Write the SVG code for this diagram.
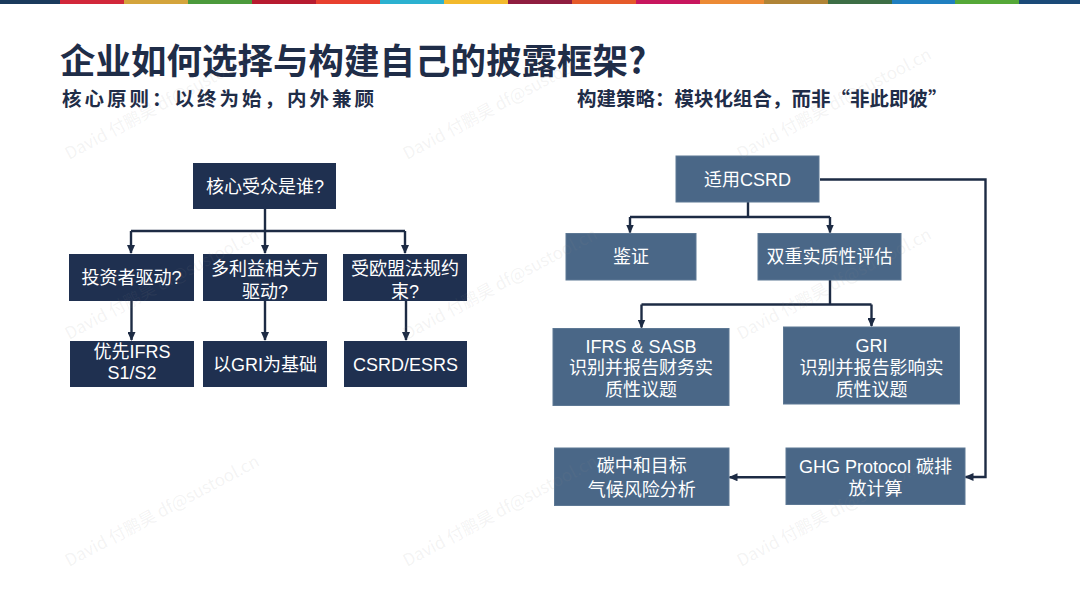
<svg xmlns="http://www.w3.org/2000/svg" width="1080" height="608" viewBox="0 0 1080 608">
<defs>
<style>
.t{font-family:"Noto Sans CJK SC","Noto Sans",sans-serif}
.title{font-size:35.5px;font-weight:700;fill:#1f2d48}
.sub{font-size:19.5px;font-weight:700;fill:#1f2d48}
.lbl{font-family:"Liberation Sans","Noto Sans CJK SC",sans-serif;font-size:18px;fill:#ffffff;text-anchor:middle}
.dk{fill:#1f3050}
.lt{fill:#4a6787;stroke:#5d7894;stroke-width:1}
.ln{fill:none;stroke:#1d2b44;stroke-width:2.4}
.wm{font-size:17px;fill:#8c8c8c;fill-opacity:0.1}
</style>
<marker id="ah" markerUnits="userSpaceOnUse" markerWidth="9" markerHeight="8" refX="8" refY="4" orient="auto">
<path d="M0,0 L9,4 L0,8 Z" fill="#1d2b44"/>
</marker>
</defs>
<rect width="1080" height="608" fill="#ffffff"/>
<g id="colorbar">
<rect x="0" y="0" width="60" height="4" fill="#1a3a5c"/>
<rect x="60" y="0" width="64" height="4" fill="#d2273a"/>
<rect x="124" y="0" width="64" height="4" fill="#d4a43c"/>
<rect x="188" y="0" width="64" height="4" fill="#4c9a3c"/>
<rect x="252" y="0" width="64" height="4" fill="#b71b30"/>
<rect x="316" y="0" width="64" height="4" fill="#e8402e"/>
<rect x="380" y="0" width="64" height="4" fill="#2bb1d0"/>
<rect x="444" y="0" width="64" height="4" fill="#f2b92c"/>
<rect x="508" y="0" width="64" height="4" fill="#8f1d40"/>
<rect x="572" y="0" width="64" height="4" fill="#e55a2a"/>
<rect x="636" y="0" width="64" height="4" fill="#c8165e"/>
<rect x="700" y="0" width="64" height="4" fill="#ec8a35"/>
<rect x="764" y="0" width="64" height="4" fill="#b08436"/>
<rect x="828" y="0" width="64" height="4" fill="#3d6e45"/>
<rect x="892" y="0" width="63" height="4" fill="#1f7fc0"/>
<rect x="955" y="0" width="64" height="4" fill="#55a838"/>
<rect x="1019" y="0" width="61" height="4" fill="#1b4a78"/>
</g>
<text class="t title" x="60" y="74">企业如何选择与构建自己的披露框架?</text>
<text class="t sub" x="62" y="106" letter-spacing="3">核心原则：以终为始，内外兼顾</text>
<text class="t sub" x="577" y="106">构建策略：模块化组合，而非“非此即彼”</text>

<g id="connectors">
<path class="ln" d="M265,209 V231"/>
<path class="ln" d="M131,231 H405"/>
<path class="ln" d="M131,231 V253" marker-end="url(#ah)"/>
<path class="ln" d="M265,231 V253" marker-end="url(#ah)"/>
<path class="ln" d="M405,231 V253" marker-end="url(#ah)"/>
<path class="ln" d="M131.5,301 V340" marker-end="url(#ah)"/>
<path class="ln" d="M265,301 V340" marker-end="url(#ah)"/>
<path class="ln" d="M406,301 V340" marker-end="url(#ah)"/>
<path class="ln" d="M748,202 V217"/>
<path class="ln" d="M630,217 H830"/>
<path class="ln" d="M630,217 V232.5" marker-end="url(#ah)"/>
<path class="ln" d="M830,217 V232.5" marker-end="url(#ah)"/>
<path class="ln" d="M830,280 V304.5"/>
<path class="ln" d="M641.5,304.5 H871.5"/>
<path class="ln" d="M641.5,304.5 V327.5" marker-end="url(#ah)"/>
<path class="ln" d="M871.5,304.5 V326" marker-end="url(#ah)"/>
<path class="ln" d="M820,179.5 H985.5 V477 H965.5" marker-end="url(#ah)"/>
<path class="ln" d="M786,477.3 H729.5" marker-end="url(#ah)"/>
</g>

<g id="n-root"><rect class="dk" x="193" y="163" width="143" height="46"/><text class="lbl" x="265" y="192.5">核心受众是谁?</text></g>
<g id="n-investor"><rect class="dk" x="69" y="254" width="125" height="47"/><text class="lbl" x="131.5" y="284">投资者驱动?</text></g>
<g id="n-multi"><rect class="dk" x="203" y="254" width="124" height="47"/><text class="lbl" x="265" y="274.5">多利益相关方</text><text class="lbl" x="265" y="298">驱动?</text></g>
<g id="n-eu"><rect class="dk" x="343" y="254" width="124" height="47"/><text class="lbl" x="405" y="274.5">受欧盟法规约</text><text class="lbl" x="405" y="298">束?</text></g>
<g id="n-ifrs"><rect class="dk" x="70" y="341" width="124" height="46"/><text class="lbl" x="132" y="358">优先IFRS</text><text class="lbl" x="132" y="379">S1/S2</text></g>
<g id="n-gri"><rect class="dk" x="203" y="341" width="124" height="46"/><text class="lbl" x="265" y="370.5">以GRI为基础</text></g>
<g id="n-csrd"><rect class="dk" x="344" y="341" width="123" height="46"/><text class="lbl" x="405.5" y="370.5">CSRD/ESRS</text></g>

<g id="r-csrd"><rect class="lt" x="676" y="156" width="143" height="46"/><text class="lbl" x="747.5" y="185.5">适用CSRD</text></g>
<g id="r-assure"><rect class="lt" x="566" y="233.5" width="130" height="46.5"/><text class="lbl" x="631" y="263">鉴证</text></g>
<g id="r-dma"><rect class="lt" x="758" y="233.5" width="143" height="46.5"/><text class="lbl" x="829.5" y="263">双重实质性评估</text></g>
<g id="r-ifrs"><rect class="lt" x="553" y="328.5" width="176" height="77"/><text class="lbl" x="641" y="353">IFRS &amp; SASB</text><text class="lbl" x="641" y="374">识别并报告财务实</text><text class="lbl" x="641" y="395.5">质性议题</text></g>
<g id="r-gri"><rect class="lt" x="783.5" y="327" width="176" height="77"/><text class="lbl" x="871.5" y="351.5">GRI</text><text class="lbl" x="871.5" y="373.5">识别并报告影响实</text><text class="lbl" x="871.5" y="395.5">质性议题</text></g>
<g id="r-carbon"><rect class="lt" x="554.5" y="448" width="174.5" height="57.5"/><text class="lbl" x="641.7" y="471.5">碳中和目标</text><text class="lbl" x="641.7" y="495.5">气候风险分析</text></g>
<g id="r-ghg"><rect class="lt" x="786" y="448" width="179" height="56.5"/><text class="lbl" x="875.5" y="473">GHG Protocol 碳排</text><text class="lbl" x="875.5" y="495">放计算</text></g>

<g id="watermark">
<text class="t wm" transform="translate(69,160) rotate(-28)">David 付鹏昊 df@sustool.cn</text>
<text class="t wm" transform="translate(407,160) rotate(-28)">David 付鹏昊 df@sustool.cn</text>
<text class="t wm" transform="translate(741,160) rotate(-28)">David 付鹏昊 df@sustool.cn</text>
<text class="t wm" transform="translate(69,340) rotate(-28)">David 付鹏昊 df@sustool.cn</text>
<text class="t wm" transform="translate(407,340) rotate(-28)">David 付鹏昊 df@sustool.cn</text>
<text class="t wm" transform="translate(741,340) rotate(-28)">David 付鹏昊 df@sustool.cn</text>
<text class="t wm" transform="translate(69,567) rotate(-28)">David 付鹏昊 df@sustool.cn</text>
<text class="t wm" transform="translate(407,567) rotate(-28)">David 付鹏昊 df@sustool.cn</text>
<text class="t wm" transform="translate(741,567) rotate(-28)">David 付鹏昊 df@sustool.cn</text>
</g>
</svg>
